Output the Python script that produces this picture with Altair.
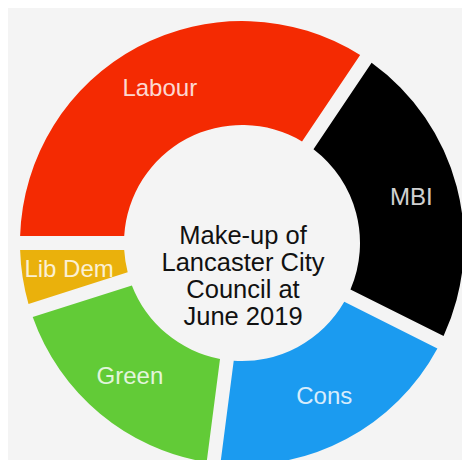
import math
import altair as alt
import pandas as pd

parties = ["Labour", "MBI", "Cons", "Green", "Lib Dem"]
seats = [21, 14, 12, 11, 3]
colors = ["#f42a02", "#000000", "#1b9bf0", "#62cb37", "#eab10c"]
center_lines = ["Make-up of", "Lancaster City", "Council at", "June 2019"]

df = pd.DataFrame({"party": parties, "seats": seats, "order": list(range(len(parties)))})

start = 3 * math.pi / 2
theta_scale = alt.Scale(range=[start, start + 2 * math.pi])

cx, cy = 234, 235

base = alt.Chart(df).encode(
    theta=alt.Theta("seats:Q", stack=True, scale=theta_scale),
    order=alt.Order("order:Q"),
    x=alt.value(cx),
    y=alt.value(cy),
)

arcs = base.mark_arc(innerRadius=118, outerRadius=222, padAngle=0.055).encode(
    color=alt.Color("party:N", scale=alt.Scale(domain=parties, range=colors), legend=None)
)

labels = base.mark_text(
    radius=175, fontSize=24, font="Liberation Sans", fill="white", opacity=0.82
).encode(text="party:N")

center = alt.Chart(pd.DataFrame({"t": ["\n".join(center_lines)]})).mark_text(
    font="Liberation Sans", fontSize=25.5, lineHeight=27, lineBreak="\n",
    fill="#111111", align="center", baseline="middle"
).encode(text="t:N", x=alt.value(235), y=alt.value(228))

chart = alt.layer(arcs, labels, center).properties(
    width=454, height=452, background="#f4f4f4", padding=0,
    autosize=alt.AutoSizeParams(type="fit", contains="padding"),
).configure_view(strokeWidth=0)

chart.save("out.html", embed_options={"renderer": "svg", "actions": False})
